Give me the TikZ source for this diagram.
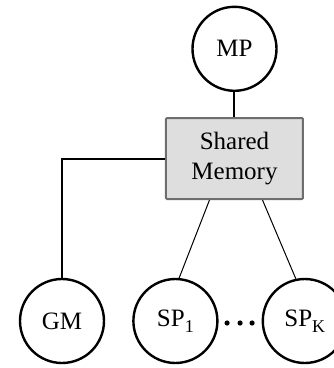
\documentclass[tikz,border=0pt]{standalone}
\usepackage{fontspec}
\setmainfont{Liberation Serif}
\usetikzlibrary{positioning,calc}

\definecolor{memfill}{RGB}{222,222,222}
\definecolor{memline}{RGB}{110,110,110}

% subscript for the processor labels
\newcommand{\spsub}[1]{\raisebox{-6pt}{\fontsize{18}{18}\selectfont #1}}

\begin{document}
\begin{tikzpicture}[x=1pt, y=-1pt,
    proc/.style={circle, draw, line width=2.4pt, minimum size=84pt, inner sep=0pt,
      font=\fontsize{25}{27}\selectfont},
    mem/.style={rectangle, draw=memline, fill=memfill, line width=2pt, rounded corners=1pt,
      minimum width=137pt, minimum height=81pt, align=center,
      font=\fontsize{25}{30}\selectfont},
    link/.style={line width=2pt},
    thinlink/.style={line width=1pt}]
  % fix the margins
  \useasboundingbox (0,0) rectangle (334,368);

  % shared memory in the middle
  \node [mem] (mem) at (234.5,158.5) {Shared\\Memory};
  % main processor above it
  \node [proc, above=25pt of mem] (mp) {MP};

  % global memory and the sub processors in a row
  \node [proc] (gm) at (62,321) {GM};
  \node [proc, right=27pt of gm] (sp1) {SP\spsub{1}};
  \node [proc, right=43pt of sp1] (spk) {SP\spsub{K}};
  \coordinate (dots) at ($(sp1)!0.5!(spk)$);

  % connections
  \draw [link] (mp) -- (mem);
  \draw [link] (mem.west) -| (gm.north);
  \draw [thinlink] ([xshift=-25pt]mem.south) -- (sp1.85);
  \draw [thinlink] ([xshift=28pt]mem.south) -- (spk.102);

  % dots between the sub processors
  \foreach \dx in {-13,0,12}
    \fill ([shift={(\dx,2)}]dots) circle (2.6pt);
\end{tikzpicture}
\end{document}
